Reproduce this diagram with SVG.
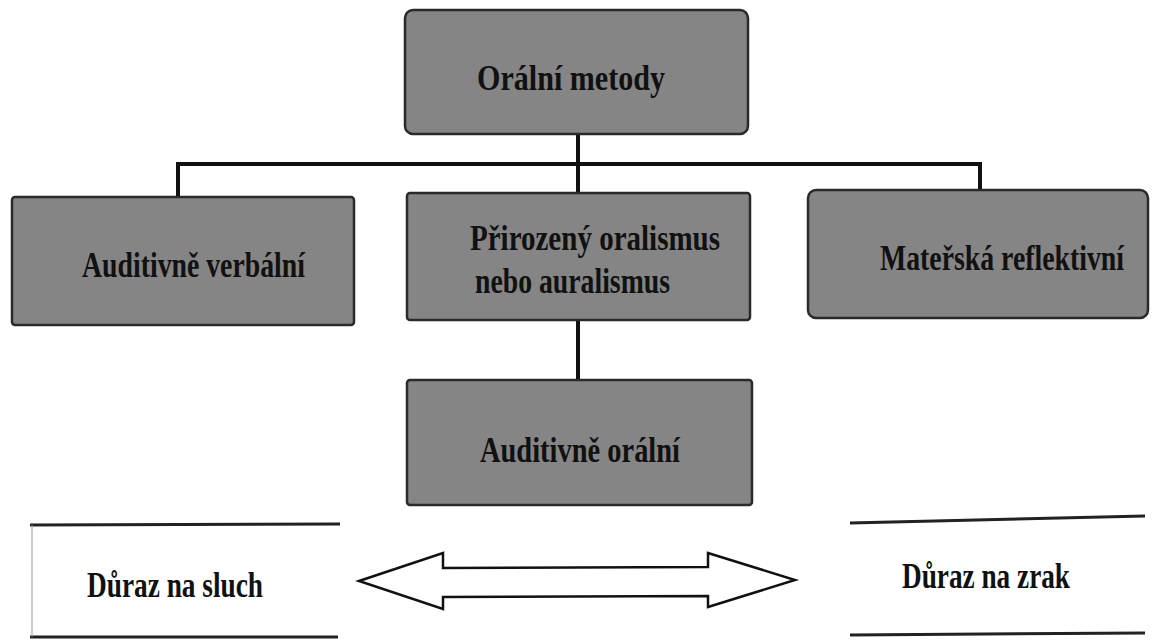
<svg xmlns="http://www.w3.org/2000/svg" width="1152" height="642" viewBox="0 0 1152 642">
<style>
.box{fill:#858585;stroke:#2a2a2a;stroke-width:2.5}
.t{font-family:"Liberation Serif",serif;font-weight:bold;font-size:36px;fill:#111}
.ln{stroke:#111;stroke-width:4;fill:none}
.thin{stroke:#222;stroke-width:3;fill:none}
</style>
<rect width="1152" height="642" fill="#fff"/>
<g id="connectors">
<line class="ln" x1="578" y1="134" x2="578" y2="194"/>
<line class="ln" x1="176" y1="164" x2="982" y2="164"/>
<line class="ln" x1="178" y1="164" x2="178" y2="198"/>
<line class="ln" x1="980" y1="164" x2="980" y2="191"/>
<line class="ln" x1="578" y1="320" x2="578" y2="381"/>
</g>
<g id="n-oralni-metody">
<rect class="box" x="405" y="10" width="343" height="124" rx="8"/>
<text class="t" x="477" y="90" textLength="188" lengthAdjust="spacingAndGlyphs">Orální metody</text>
</g>
<g id="n-auditivne-verbalni">
<rect class="box" x="12" y="197" width="342" height="128" rx="3"/>
<text class="t" x="82" y="277" textLength="223" lengthAdjust="spacingAndGlyphs">Auditivně verbální</text>
</g>
<g id="n-prirozeny">
<rect class="box" x="407" y="193" width="343" height="127" rx="3"/>
<text class="t" x="470" y="250" textLength="250" lengthAdjust="spacingAndGlyphs">Přirozený oralismus</text>
<text class="t" x="475" y="293" textLength="195" lengthAdjust="spacingAndGlyphs">nebo auralismus</text>
</g>
<g id="n-materska">
<rect class="box" x="808" y="190" width="340" height="128" rx="8"/>
<text class="t" x="880" y="270" textLength="244" lengthAdjust="spacingAndGlyphs">Mateřská reflektivní</text>
</g>
<g id="n-auditivne-oralni">
<rect class="box" x="407" y="380" width="345" height="125" rx="3"/>
<text class="t" x="480" y="462" textLength="200" lengthAdjust="spacingAndGlyphs">Auditivně orální</text>
</g>
<g id="n-duraz-sluch">
<line class="thin" x1="30" y1="525" x2="340" y2="524"/>
<line class="thin" x1="30" y1="637" x2="338" y2="637"/>
<line stroke="#999" stroke-width="1" x1="32" y1="525" x2="32" y2="637"/>
<text class="t" x="87" y="597" textLength="176" lengthAdjust="spacingAndGlyphs">Důraz na sluch</text>
</g>
<g id="n-duraz-zrak">
<line class="thin" x1="850" y1="523" x2="1145" y2="516"/>
<line class="thin" x1="850" y1="635" x2="1145" y2="633"/>
<text class="t" x="902" y="588" textLength="168" lengthAdjust="spacingAndGlyphs">Důraz na zrak</text>
</g>
<g id="double-arrow">
<polygon points="359,581 443,553 443,568 708,567 708,553 795,580 708,607 708,596 443,597 443,609" fill="#fff" stroke="#111" stroke-width="2.5" stroke-linejoin="miter"/>
</g>
</svg>
